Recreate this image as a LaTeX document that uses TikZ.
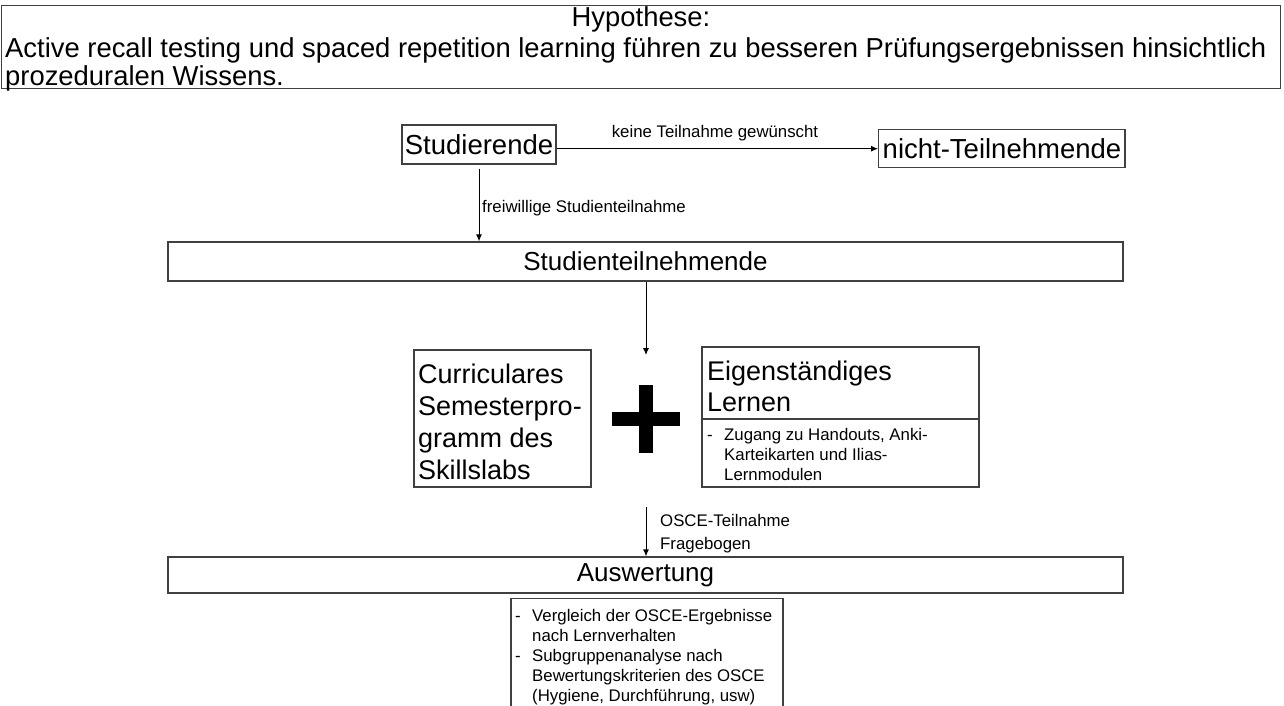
\documentclass[tikz,border=0pt]{standalone}
\usepackage{fontspec}
\setmainfont{Liberation Sans}
\usetikzlibrary{arrows.meta}

\newcommand{\hyptxt}{\fontsize{27.4}{26}\selectfont}
\newcommand{\bigtxt}{\fontsize{26}{32}\selectfont}
\newcommand{\headtxt}{\fontsize{27.5}{32}\selectfont}
\newcommand{\boxtxt}{\fontsize{27}{32}\selectfont}
\newcommand{\midtxt}{\fontsize{27}{31}\selectfont}
\newcommand{\smalltxt}{\fontsize{16.8}{20.5}\selectfont}
\newcommand{\listtxt}{\fontsize{16.8}{20}\selectfont}

\begin{document}
\begin{tikzpicture}[x=1pt,y=-1pt,
  frame/.style={draw=black!75, line width=1.4pt, inner sep=0pt},
  rule/.style={draw=black!75, line width=1.4pt},
  conn/.style={draw=black, line width=0.9pt, -{Latex[length=7pt,width=6pt]}},
  txt/.style={inner sep=0pt, anchor=north west},
  lbl/.style={inner sep=0pt, font=\smalltxt},
]
% canvas
\fill[white] (0,0) rectangle (1284,706);
\useasboundingbox (0,0) rectangle (1284,706);

% hypothesis
\node[frame, minimum width=1279pt, minimum height=83pt, anchor=north west] (hyp) at (1,5) {};
\node[inner sep=0pt, anchor=base, font=\hyptxt] (hyptitle) at (641,27) {Hypothese:};
\node[txt] (hypbody) at (5,37.8) {\hyptxt\begin{tabular}{@{}l@{}}
Active recall testing und spaced repetition learning führen zu besseren Prüfungsergebnissen hinsichtlich\\
prozeduralen Wissens.
\end{tabular}};

% recruitment
\node[frame, minimum width=154pt, minimum height=39pt] (stud) at (479,144.5) {\headtxt Studierende};
\node[frame, inner xsep=4pt, minimum height=38pt, anchor=north west] (nicht) at (878,129) {\headtxt nicht-Teilnehmende};
\draw[conn] (stud.east |- nicht.west) -- (nicht.west);
\node[lbl, anchor=base] (lblkeine) at (715,137) {keine Teilnahme gewünscht};

\node[frame, minimum width=955pt, minimum height=39pt] (teil) at (645.5,261.5) {\bigtxt Studienteilnehmende};
\draw[conn, shorten <=4pt] (stud.south) -- (stud.south |- teil.north);
\node[lbl, anchor=base west] (lblfrei) at (482,212) {freiwillige Studienteilnahme};

% learning arms
\coordinate (plusc) at (646,419);
\coordinate (pin) at (646,355);
\draw[conn] (teil.south -| pin) -- (pin);

\node[frame, minimum width=177pt, minimum height=137pt] (curric) at (502.5,418.5) {};
\node[txt] (currictxt) at (418,360.6) {\boxtxt\begin{tabular}{@{}l@{}}
Curriculares\\ Semesterpro-\\ gramm des\\ Skillslabs
\end{tabular}};

\fill ([shift={(-34,-7)}]plusc) rectangle ([shift={(34,7)}]plusc);
\fill ([shift={(-7,-34)}]plusc) rectangle ([shift={(7,34)}]plusc);

\node[frame, minimum width=277pt, minimum height=140pt] (eigen) at (840.5,417) {};
\coordinate (split) at (0,419);
\draw[rule] (eigen.west |- split) -- (eigen.east |- split);
\node[txt] (eigentxt) at (707,358.3) {\midtxt\begin{tabular}{@{}l@{}}
Eigenständiges\\ Lernen
\end{tabular}};
\node[txt] (eigenlist) at (707,426) {\listtxt\begin{tabular}{@{}p{17pt}@{}l@{}}
- & Zugang zu Handouts, Anki-\\
  & Karteikarten und Ilias-\\
  & Lernmodulen
\end{tabular}};

% evaluation
\coordinate (pout) at (646,507);
\node[frame, minimum width=955pt, minimum height=36pt] (aus) at (645.5,575) {\bigtxt Auswertung};
\draw[conn] (pout) -- (pout |- aus.north);
\node[lbl, anchor=base west] (lblosce) at (660,526) {OSCE-Teilnahme};
\node[lbl, anchor=base west] (lblfrage) at (660,549) {Fragebogen};

\begin{scope}
\clip (0,0) rectangle (1284,706);
\node[frame, minimum width=272pt, minimum height=122pt, anchor=north] (ergeb) at (647,598) {};
\end{scope}
\node[txt] (ergebtxt) at (515,607) {\listtxt\begin{tabular}{@{}p{17pt}@{}l@{}}
- & Vergleich der OSCE-Ergebnisse\\
  & nach Lernverhalten\\
- & Subgruppenanalyse nach\\
  & Bewertungskriterien des OSCE\\
  & (Hygiene, Durchführung, usw)
\end{tabular}};
\end{tikzpicture}
\end{document}
